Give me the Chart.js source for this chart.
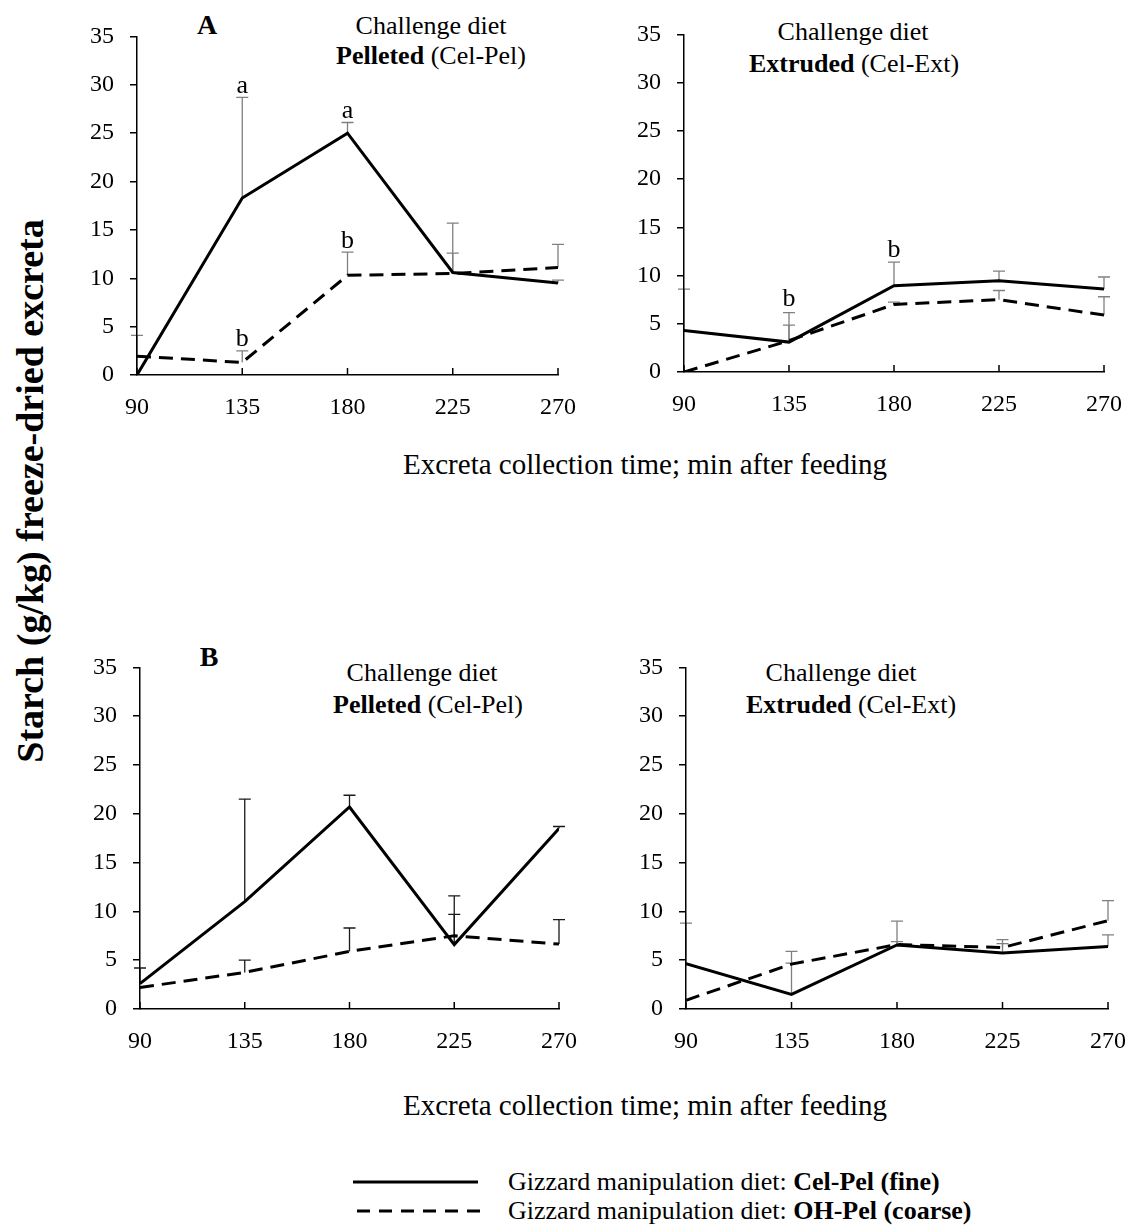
<!DOCTYPE html>
<html>
<head>
<meta charset="utf-8">
<script src="https://cdn.jsdelivr.net/npm/chart.js@4.4.1/dist/chart.umd.min.js"></script>
<style>
  body { margin: 0; background: #fff; width: 1129px; height: 1225px; position: relative; overflow: hidden;
         font-family: "Liberation Serif", "Times New Roman", serif; color: #000; }
  canvas { position: absolute; }
  .txt { position: absolute; white-space: nowrap; transform: translate(-50%, -50%); line-height: 1; font-size: 26px; }
  .left { position: absolute; white-space: nowrap; transform: translateY(-50%); line-height: 1; font-size: 26px; }
  b { font-weight: bold; }
</style>
</head>
<body>

<div class="txt" style="left:207px;top:25px;font-weight:bold;font-size:28px">A</div>
<div class="txt" style="left:431px;top:26px">Challenge diet</div>
<div class="txt" style="left:431px;top:56px"><b>Pelleted</b> (Cel-Pel)</div>
<div class="txt" style="left:853px;top:32px">Challenge diet</div>
<div class="txt" style="left:854px;top:64px"><b>Extruded</b> (Cel-Ext)</div>

<div class="txt" style="left:209px;top:657px;font-weight:bold;font-size:28px">B</div>
<div class="txt" style="left:422px;top:673px">Challenge diet</div>
<div class="txt" style="left:428px;top:705px"><b>Pelleted</b> (Cel-Pel)</div>
<div class="txt" style="left:841px;top:673px">Challenge diet</div>
<div class="txt" style="left:851px;top:705px"><b>Extruded</b> (Cel-Ext)</div>

<div class="txt" style="left:645px;top:464px;font-size:29px">Excreta collection time; min after feeding</div>
<div class="txt" style="left:645px;top:1105px;font-size:29px">Excreta collection time; min after feeding</div>

<div class="txt" style="left:30px;top:491px;font-size:38px;font-weight:bold;transform:translate(-50%,-50%) rotate(-90deg)">Starch (g/kg) freeze-dried excreta</div>

<canvas id="legendLines" width="150" height="50" style="left:345px;top:1170px"></canvas>
<div class="left" style="left:508px;top:1182px">Gizzard manipulation diet: <b>Cel-Pel (fine)</b></div>
<div class="left" style="left:508px;top:1211px">Gizzard manipulation diet: <b>OH-Pel (coarse)</b></div>

<canvas id="aPel"></canvas>
<canvas id="aExt"></canvas>
<canvas id="bPel"></canvas>
<canvas id="bExt"></canvas>

<script>
const times = [90, 135, 180, 225, 270];
const xTickValues = [90, 135, 180, 225, 270];
const yTickValues = [0, 5, 10, 15, 20, 25, 30, 35];

// A, pelleted challenge diet
const aPelFine = [0, 18.3, 25.0, 10.6, 9.5];
const aPelFineTop = [4.1, 28.7, 26.1, 15.7, 9.8];
const aPelCoarse = [1.95, 1.3, 10.3, 10.5, 11.1];
const aPelCoarseTop = [null, 2.5, 12.7, 12.6, 13.5];

// A, extruded challenge diet
const aExtFine = [4.3, 3.1, 8.95, 9.45, 8.6];
const aExtFineTop = [8.6, 6.15, 11.4, 10.45, 9.85];
const aExtCoarse = [0, 3.25, 7.0, 7.5, 5.9];
const aExtCoarseTop = [null, 4.85, 7.25, 8.45, 7.8];

// B, pelleted challenge diet
const bPelFine = [2.6, 11.0, 20.7, 6.6, 18.5];
const bPelFineTop = [4.2, 21.5, 21.9, 11.6, 18.7];
const bPelCoarse = [2.2, 3.75, 5.9, 7.5, 6.65];
const bPelCoarseTop = [null, 5.0, 8.3, 9.7, 9.15];

// B, extruded challenge diet
const bExtFine = [4.63, 1.5, 6.56, 5.73, 6.4];
const bExtFineTop = [8.8, 4.7, 6.9, 6.7, 7.6];
const bExtCoarse = [0.9, 4.6, 6.6, 6.3, 9.05];
const bExtCoarseTop = [null, 5.9, 9.0, 7.1, 11.1];

// significance letters
const aPelLetters = ['a', 'a', 'b', 'b'];
const aPelLetterTimes = [135, 180, 135, 180];
const aPelLetterLevels = [29.9, 27.3, 3.7, 13.8];
const aExtLetters = ['b', 'b'];
const aExtLetterTimes = [135, 180];
const aExtLetterLevels = [7.6, 12.6];

const FONT = '"Liberation Serif", "Times New Roman", serif';
const DASH = [14, 8];

function points(vals) {
    return times.map((t, i) => ({ x: t, y: vals[i] }));
}

function makePanel(id, box, fine, fineTop, coarse, coarseTop, errColor, letters, letterTimes, letterLevels) {
    const canvas = document.getElementById(id);
    const padL = 75, padT = 20, padR = 30, padB = 60;
    canvas.width = box.r - box.l + padL + padR;
    canvas.height = box.b - box.t + padT + padB;
    canvas.style.left = (box.l - padL) + 'px';
    canvas.style.top = (box.t - padT) + 'px';

    const extras = {
        id: 'extras_' + id,
        beforeDraw(chart) {
            // error bars go under the axes and lines
            const ctx = chart.ctx, xs = chart.scales.x, ys = chart.scales.y;
            ctx.save();
            ctx.strokeStyle = errColor;
            ctx.lineWidth = 1.3;
            [[fine, fineTop], [coarse, coarseTop]].forEach(([vals, tops]) => {
                tops.forEach((top, i) => {
                    if (top == null) return;
                    const x = xs.getPixelForValue(times[i]);
                    const y0 = ys.getPixelForValue(vals[i]);
                    const y1 = ys.getPixelForValue(top);
                    ctx.beginPath();
                    ctx.moveTo(x, y0);
                    ctx.lineTo(x, y1);
                    ctx.moveTo(x - 6, y1);
                    ctx.lineTo(x + 6, y1);
                    ctx.stroke();
                });
            });
            ctx.restore();
        },
        afterDraw(chart) {
            const ctx = chart.ctx, xs = chart.scales.x, ys = chart.scales.y;
            ctx.save();
            // inward tick marks on the time axis
            ctx.strokeStyle = '#000';
            ctx.lineWidth = 1.5;
            const yb = chart.chartArea.bottom;
            xTickValues.forEach(v => {
                const x = xs.getPixelForValue(v);
                ctx.beginPath();
                ctx.moveTo(x, yb);
                ctx.lineTo(x, yb - 7);
                ctx.stroke();
            });
            ctx.fillStyle = '#000';
            ctx.font = '26px ' + FONT;
            ctx.textAlign = 'center';
            ctx.textBaseline = 'middle';
            (letters || []).forEach((txt, i) => {
                ctx.fillText(txt, xs.getPixelForValue(letterTimes[i]), ys.getPixelForValue(letterLevels[i]));
            });
            ctx.restore();
        }
    };

    return new Chart(canvas, {
        type: 'line',
        data: {
            datasets: [
                {
                    label: 'OH-Pel (coarse)',
                    data: points(coarse),
                    borderColor: '#000',
                    borderWidth: 3,
                    borderDash: DASH,
                    pointRadius: 0,
                    tension: 0,
                    fill: false
                },
                {
                    label: 'Cel-Pel (fine)',
                    data: points(fine),
                    borderColor: '#000',
                    borderWidth: 3,
                    pointRadius: 0,
                    tension: 0,
                    fill: false
                }
            ]
        },
        options: {
            responsive: false,
            animation: false,
            layout: { padding: { top: padT, right: padR, left: 0, bottom: 0 } },
            plugins: {
                legend: { display: false },
                tooltip: { enabled: false }
            },
            scales: {
                x: {
                    type: 'linear',
                    min: 90,
                    max: 270,
                    afterBuildTicks: s => { s.ticks = xTickValues.map(v => ({ value: v })); },
                    afterFit: s => { s.height = padB; },
                    grid: { display: false },
                    border: { color: '#000', width: 1.5 },
                    ticks: { color: '#000', font: { family: FONT, size: 24 }, padding: 10 }
                },
                y: {
                    min: 0,
                    max: 35,
                    afterBuildTicks: s => { s.ticks = yTickValues.map(v => ({ value: v })); },
                    afterFit: s => { s.width = padL; },
                    grid: { drawOnChartArea: false, drawTicks: true, tickLength: 7, color: '#000', lineWidth: 1.5 },
                    border: { color: '#000', width: 1.5 },
                    ticks: { color: '#000', font: { family: FONT, size: 24 }, padding: 16 }
                }
            }
        },
        plugins: [extras]
    });
}

makePanel('aPel', { l: 137, t: 26, r: 558, b: 375 }, aPelFine, aPelFineTop, aPelCoarse, aPelCoarseTop,
    '#808080', aPelLetters, aPelLetterTimes, aPelLetterLevels);
makePanel('aExt', { l: 684, t: 24, r: 1104, b: 372 }, aExtFine, aExtFineTop, aExtCoarse, aExtCoarseTop,
    '#808080', aExtLetters, aExtLetterTimes, aExtLetterLevels);
makePanel('bPel', { l: 140, t: 657, r: 559, b: 1009 }, bPelFine, bPelFineTop, bPelCoarse, bPelCoarseTop,
    '#1a1a1a');
makePanel('bExt', { l: 686, t: 657, r: 1108, b: 1009 }, bExtFine, bExtFineTop, bExtCoarse, bExtCoarseTop,
    '#808080');

// legend sample lines
const lg = document.getElementById('legendLines').getContext('2d');
lg.strokeStyle = '#000';
lg.lineWidth = 3;
lg.beginPath();
lg.moveTo(8, 12);
lg.lineTo(133, 12);
lg.stroke();
lg.setLineDash([13, 9]);
lg.beginPath();
lg.moveTo(12, 41);
lg.lineTo(142, 41);
lg.stroke();
</script>
</body>
</html>
